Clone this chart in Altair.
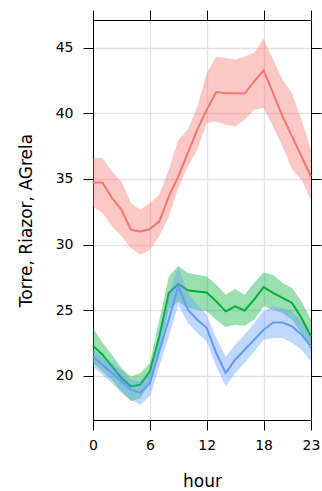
import altair as alt
import pandas as pd

hours = list(range(24))
series_names = ["Torre", "Riazor", "AGrela"]
series_colors = ["#F8766D", "#00B038", "#619CFF"]

torre_mean = [34.73, 34.73, 33.55, 32.66, 31.13, 31.0, 31.19, 31.77, 33.67, 35.19, 36.97, 38.74,
              40.27, 41.61, 41.53, 41.53, 41.5, 42.42, 43.26, 41.53, 39.76, 38.24, 36.71, 35.19]
torre_hi = [36.59, 36.59, 35.57, 34.81, 33.16, 32.66, 33.16, 33.8, 35.7, 37.98, 38.74, 40.52,
            43.06, 44.33, 44.2, 44.07, 44.33, 44.58, 45.7, 44.07, 42.55, 41.53, 39.5, 37.2]
torre_lo = [32.91, 32.4, 31.39, 30.63, 29.74, 29.23, 29.61, 30.63, 32.15, 34.3, 35.95, 37.2,
            39.25, 39.37, 39.12, 38.99, 39.5, 40.27, 40.4, 38.99, 37.48, 35.7, 34.94, 33.42]

riazor_mean = [22.31, 21.62, 20.73, 19.85, 19.21, 19.34, 20.35, 23.01, 26.32, 27.0, 26.52, 26.44,
               26.36, 25.68, 24.92, 25.3, 24.99, 25.81, 26.77, 26.32, 25.94, 25.56, 24.41, 23.01]
riazor_hi = [23.65, 22.51, 21.62, 20.61, 19.97, 20.23, 20.99, 24.28, 27.58, 28.39, 27.84, 27.71,
             27.58, 26.95, 26.19, 26.62, 26.19, 27.08, 27.88, 27.71, 27.08, 26.7, 25.68, 24.28]
riazor_lo = [20.99, 20.35, 19.72, 18.83, 18.07, 18.33, 19.47, 21.75, 25.05, 25.68, 25.17, 25.05,
             24.92, 24.28, 23.73, 23.9, 23.83, 24.28, 25.3, 25.05, 24.79, 24.28, 23.27, 22.0]

agrela_mean = [21.49, 20.86, 20.23, 19.59, 18.96, 18.71, 19.47, 21.9, 24.3, 26.82, 25.05, 24.28,
               23.65, 21.75, 20.23, 21.24, 22.0, 22.76, 23.52, 24.08, 24.08, 23.77, 23.14, 22.25]
agrela_hi = [22.13, 21.37, 20.99, 20.48, 19.72, 19.59, 20.35, 22.9, 26.2, 28.34, 26.32, 25.43,
             24.67, 22.89, 21.49, 22.38, 23.14, 24.03, 24.92, 25.3, 25.17, 24.92, 24.16, 23.01]
agrela_lo = [20.73, 20.1, 19.47, 18.71, 18.2, 17.82, 18.45, 20.73, 23.01, 25.43, 24.03, 23.27,
             22.63, 20.73, 19.21, 20.23, 20.99, 21.87, 22.76, 22.89, 22.89, 22.51, 22.0, 21.11]

x_ticks = [0, 6, 12, 18, 23]
y_ticks = [20, 25, 30, 35, 40, 45]
y_domain = [16.65, 47.1]

all_data = {
    "Torre": (torre_mean, torre_lo, torre_hi),
    "Riazor": (riazor_mean, riazor_lo, riazor_hi),
    "AGrela": (agrela_mean, agrela_lo, agrela_hi),
}

FONT = "DejaVu Sans"

x_scale = alt.Scale(domain=[0, 23], nice=False, zero=False)
y_scale = alt.Scale(domain=y_domain, nice=False, zero=False)

main_x_axis = alt.Axis(values=x_ticks, orient="bottom", title="hour", grid=True,
                       gridColor="#e3e3e3", gridWidth=1.3, domainColor="black",
                       tickColor="black", tickSize=10, labelPadding=8,
                       labelFontSize=14, titleFontSize=17, labelFont=FONT, titleFont=FONT,
                       titleFontWeight="normal", labelColor="black", titleColor="black",
                       labelFlush=False, titleY=66, titleBaseline="alphabetic")
main_y_axis = alt.Axis(values=y_ticks, orient="left", title="Torre, Riazor, AGrela", grid=True,
                       gridColor="#e3e3e3", gridWidth=1.3, domainColor="black",
                       tickColor="black", tickSize=10, labelPadding=10,
                       labelFontSize=14, titleFontSize=17, labelFont=FONT, titleFont=FONT,
                       titleFontWeight="normal", labelColor="black", titleColor="black",
                       labelFlush=False, titleX=-67, titleBaseline="middle")
top_axis = alt.Axis(values=x_ticks, orient="top", title=None, labels=False, grid=False,
                    domainColor="black", tickColor="black", tickSize=10)
right_axis = alt.Axis(values=y_ticks, orient="right", title=None, labels=False, grid=False,
                      domainColor="black", tickColor="black", tickSize=10)

layers = []
for i, (name, color) in enumerate(zip(series_names, series_colors)):
    mean, lo, hi = all_data[name]
    df = pd.DataFrame({"hour": hours, "mean": mean, "lo": lo, "hi": hi, "series": name})
    if i == 0:
        bx, by = main_x_axis, main_y_axis
        lx, ly = top_axis, right_axis
    else:
        bx = by = lx = ly = None
    band = alt.Chart(df).mark_area(color=color, opacity=0.4, interpolate="linear").encode(
        x=alt.X("hour:Q", scale=x_scale, axis=bx),
        y=alt.Y("lo:Q", scale=y_scale, axis=by),
        y2="hi:Q",
    )
    line = alt.Chart(df).mark_line(color=color, strokeWidth=2).encode(
        x=alt.X("hour:Q", scale=x_scale, axis=lx),
        y=alt.Y("mean:Q", scale=y_scale, axis=ly),
    )
    layers += [band, line]

chart = alt.layer(*layers).resolve_axis(x="independent", y="independent").properties(
    width=218, height=400,
    padding={"left": 93, "top": 20, "right": 11, "bottom": 71},
    autosize=alt.AutoSizeParams(type="none"),
).configure_view(stroke=None).configure(background="white")

chart.save("out.html", embed_options={"renderer": "svg", "actions": False})
